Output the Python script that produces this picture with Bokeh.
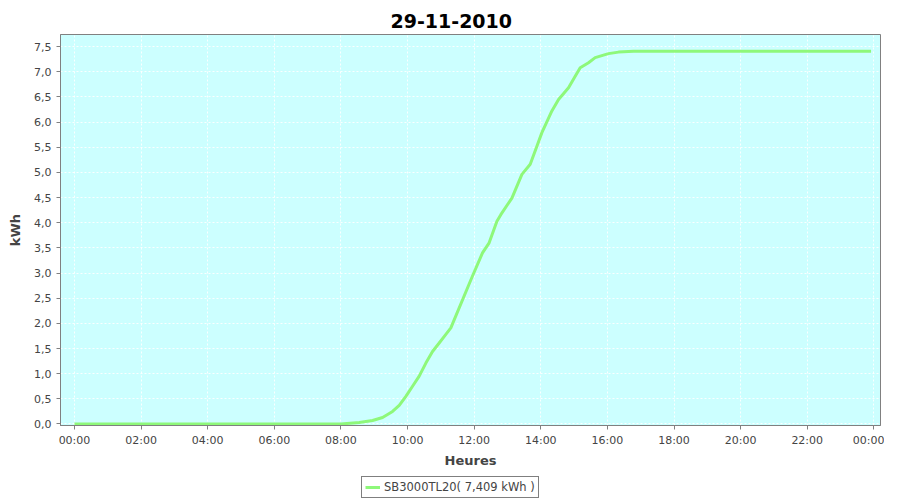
from bokeh.plotting import figure
from bokeh.layouts import column
from bokeh.models import FixedTicker, Legend, LegendItem, Range1d, ColumnDataSource
from bokeh.embed import file_html
from bokeh.resources import INLINE

# ---- data ----
times = ["00:00", "08:00", "08:33", "08:57", "09:15", "09:33", "09:45", "09:57",
         "10:09", "10:21", "10:33", "10:45", "10:57", "11:09", "11:18", "11:24",
         "11:57", "12:15", "12:27", "12:41", "12:48", "13:08", "13:26", "13:41",
         "13:53", "14:02", "14:20", "14:32", "14:50", "15:02", "15:11", "15:26",
         "15:38", "16:02", "16:20", "16:47", "23:55"]
kwh = [0.0, 0.0, 0.03, 0.07, 0.13, 0.25, 0.37, 0.55,
       0.75, 0.95, 1.21, 1.44, 1.61, 1.78, 1.91, 2.07,
       2.94, 3.40, 3.60, 4.03, 4.16, 4.49, 4.96, 5.16,
       5.52, 5.79, 6.22, 6.45, 6.68, 6.91, 7.08, 7.18,
       7.28, 7.36, 7.39, 7.409, 7.409]
x_tick_hours = [0, 2, 4, 6, 8, 10, 12, 14, 16, 18, 20, 22, 24]
x_tick_labels = ["00:00", "02:00", "04:00", "06:00", "08:00", "10:00", "12:00",
                 "14:00", "16:00", "18:00", "20:00", "22:00", "00:00"]
y_ticks = [0.0, 0.5, 1.0, 1.5, 2.0, 2.5, 3.0, 3.5, 4.0, 4.5, 5.0, 5.5, 6.0, 6.5, 7.0, 7.5]
y_tick_labels = ["0,0", "0,5", "1,0", "1,5", "2,0", "2,5", "3,0", "3,5", "4,0", "4,5",
                 "5,0", "5,5", "6,0", "6,5", "7,0", "7,5"]
title_text = "29-11-2010"
series_label = "SB3000TL20( 7,409 kWh )"

hours = [int(t[:2]) + int(t[3:]) / 60 for t in times]
src = ColumnDataSource(dict(h=hours, v=kwh))

FONT = "DejaVu Sans"
GREY = "#808080"
TXT = "#444444"
LINE = "#8EF87A"

p = figure(frame_width=820, frame_height=391, output_backend="svg", toolbar_location=None,
           x_range=Range1d(-0.42, 24.2), y_range=Range1d(-0.03, 7.74),
           background_fill_color="#CCFFFF", border_fill_color="white",
           min_border_left=60, min_border_right=4, min_border_top=34, min_border_bottom=0)

p.title.text = title_text
p.title.align = "left"
p.title.offset = 330
p.title.vertical_align = "top"
p.title.text_font = FONT
p.title.text_font_size = "19px"
p.title.text_font_style = "bold"
p.title.text_color = "black"

p.outline_line_color = GREY
p.outline_line_width = 1

r = p.line("h", "v", source=src, line_color=LINE, line_width=3, line_join="round")

# axes
p.xaxis.ticker = FixedTicker(ticks=x_tick_hours)
p.xaxis.major_label_overrides = {h: l for h, l in zip(x_tick_hours, x_tick_labels)}
p.yaxis.ticker = FixedTicker(ticks=y_ticks)
p.yaxis.major_label_overrides = {v: l for v, l in zip(y_ticks, y_tick_labels)}
p.xaxis.axis_label = "Heures"
p.yaxis.axis_label = "kWh"
for ax in (p.xaxis, p.yaxis):
    ax.axis_line_color = GREY
    ax.major_tick_line_color = GREY
    ax.major_tick_out = 4
    ax.major_tick_in = 0
    ax.minor_tick_line_color = None
    ax.major_label_text_font = FONT
    ax.major_label_text_font_size = "11px"
    ax.major_label_text_color = TXT
    ax.axis_label_text_font = FONT
    ax.axis_label_text_font_size = "13px"
    ax.axis_label_text_font_style = "bold"
    ax.axis_label_text_color = TXT
p.xaxis.major_label_standoff = 4
p.xaxis.axis_label_standoff = 3
p.yaxis.major_label_standoff = 5
p.yaxis.axis_label_standoff = 8

p.grid.grid_line_color = "white"
p.grid.grid_line_dash = "2 2"
p.grid.grid_line_alpha = 0.9
p.xgrid.ticker = FixedTicker(ticks=x_tick_hours)
p.ygrid.ticker = FixedTicker(ticks=y_ticks)

# legend strip below the chart (same series, drawn outside this strip's visible range)
lg = figure(width=884, height=29, output_backend="svg", toolbar_location=None,
            x_range=Range1d(0, 1), y_range=Range1d(100, 101),
            x_axis_location=None, y_axis_location=None,
            min_border_left=0, min_border_right=0, min_border_top=0, min_border_bottom=0,
            background_fill_color="white", border_fill_color="white")
lg.outline_line_color = None
lg.grid.visible = False
lr = lg.line("h", "v", source=src, line_color=LINE, line_width=3)

legend = Legend(items=[LegendItem(label=series_label, renderers=[lr])],
                location=(301, 1), orientation="horizontal",
                border_line_color="black", border_line_width=1,
                background_fill_color="white", background_fill_alpha=1.0,
                label_text_font=FONT, label_text_font_size="11.5px", label_text_color=TXT,
                glyph_width=15, glyph_height=10, label_standoff=4,
                padding=3, margin=0, spacing=0, label_height=14)
lg.add_layout(legend, "center")

layout = column(p, lg, spacing=0)
open("out.html", "w").write(file_html(layout, INLINE))
